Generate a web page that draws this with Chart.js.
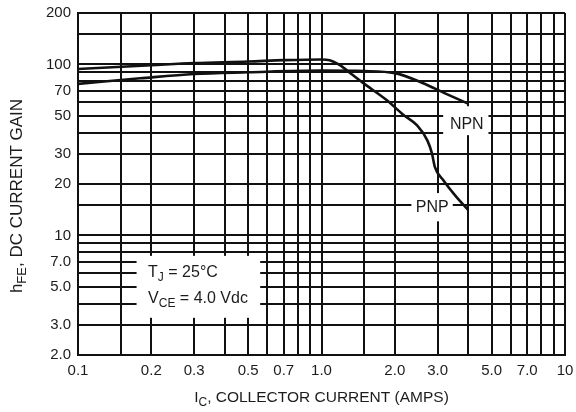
<!DOCTYPE html>
<html>
<head>
<meta charset="utf-8">
<script src="https://cdn.jsdelivr.net/npm/chart.js@4.4.1/dist/chart.umd.min.js"></script>
<style>
    html, body { margin: 0; padding: 0; background: #fff; }
    #wrap { width: 576px; height: 412px; }
</style>
</head>
<body>
<div id="wrap"><canvas id="hfe-chart" width="576" height="412"></canvas></div>
<script>
// DC current gain vs collector current (NPN / PNP)

const npnCurrent = [0.1, 0.18, 0.3, 0.5, 1.0, 1.5, 2.0, 2.6, 3.2, 4.0];
const npnGain    = [77, 83, 88, 90, 92, 91.5, 89, 78, 68, 59];

const pnpCurrent = [0.1, 0.2, 0.3, 0.5, 0.7, 1.0, 1.08, 1.19, 1.34, 1.49, 1.85, 2.16, 2.47, 2.72, 2.84, 2.92, 3.16, 3.58, 4.0];
const pnpGain    = [94, 99, 102, 104, 106, 107, 106, 99, 87, 77.5, 62, 51, 44, 36, 30.3, 25.2, 21.1, 16.8, 14.1];

const xGridValues = [0.1, 0.15, 0.2, 0.3, 0.4, 0.5, 0.6, 0.7, 0.8, 0.9, 1, 1.5, 2, 3, 4, 5, 6, 7, 8, 9, 10];
const xTickValues = [0.1, 0.2, 0.3, 0.5, 0.7, 1, 2, 3, 5, 7, 10];
const xTickLabels = ["0.1", "0.2", "0.3", "0.5", "0.7", "1.0", "2.0", "3.0", "5.0", "7.0", "10"];

const yGridValues = [2, 3, 4, 5, 6, 7, 8, 9, 10, 15, 20, 30, 40, 50, 60, 70, 80, 90, 100, 150, 200];
const yTickValues = [2, 3, 5, 7, 10, 20, 30, 50, 70, 100, 200];
const yTickLabels = ["2.0", "3.0", "5.0", "7.0", "10", "20", "30", "50", "70", "100", "200"];

const ink = "#111";
const textColor = "#1c1c1c";
const family = "'Liberation Sans', Arial, sans-serif";

// white label boxes that break the grid, in data units [x0, x1, y0, y1]
const blanks = [
    [0.174, 0.56, 3.3, 7.6],
    [3.16, 4.85, 38.6, 57],
    [2.34, 3.46, 12.1, 17.7],
];

// rich text: [text, isSubscript]
const notes = [
    { x: 0.194, y: 6.1, align: "left", parts: [["T", false], ["J", true], [" = 25°C", false]] },
    { x: 0.194, y: 4.3, align: "left", parts: [["V", false], ["CE", true], [" = 4.0 Vdc", false]] },
    { x: 3.95, y: 44.3, align: "center", parts: [["NPN", false]] },
    { x: 2.85, y: 14.5, align: "center", parts: [["PNP", false]] },
];

function drawRich(ctx, parts, x, y, size, align) {
    const sub = Math.round(size * 0.78);
    let total = 0;
    parts.forEach(([t, s]) => {
        ctx.font = `${s ? sub : size}px ${family}`;
        total += ctx.measureText(t).width;
    });
    let cx = align === "center" ? x - total / 2 : x;
    ctx.textBaseline = "middle";
    ctx.textAlign = "left";
    parts.forEach(([t, s]) => {
        ctx.font = `${s ? sub : size}px ${family}`;
        ctx.fillText(t, cx, s ? y + size * 0.32 : y);
        cx += ctx.measureText(t).width;
    });
}

const notesPlugin = {
    id: "notes",
    beforeDatasetsDraw(chart) {
        const { ctx, scales: { x, y } } = chart;
        ctx.save();
        ctx.fillStyle = "#fff";
        blanks.forEach(([x0, x1, y0, y1]) => {
            const px0 = x.getPixelForValue(x0), px1 = x.getPixelForValue(x1);
            const py0 = y.getPixelForValue(y1), py1 = y.getPixelForValue(y0);
            ctx.fillRect(px0, py0, px1 - px0, py1 - py0);
        });
        ctx.restore();
    },
    afterDatasetsDraw(chart) {
        const { ctx, scales: { x, y } } = chart;
        ctx.save();
        ctx.fillStyle = textColor;
        notes.forEach(n => {
            drawRich(ctx, n.parts, x.getPixelForValue(n.x), y.getPixelForValue(n.y), 16, n.align);
        });
        ctx.restore();
    },
    afterDraw(chart) {
        const { ctx, chartArea } = chart;
        ctx.save();
        ctx.fillStyle = textColor;
        const midX = (chartArea.left + chartArea.right) / 2;
        drawRich(ctx, [["I", false], ["C", true], [", COLLECTOR CURRENT (AMPS)", false]], midX, 398, 15.5, "center");
        ctx.translate(17, (chartArea.top + chartArea.bottom) / 2 + 12);
        ctx.rotate(-Math.PI / 2);
        drawRich(ctx, [["h", false], ["FE", true], [", DC CURRENT GAIN", false]], 0, 0, 17, "center");
        ctx.restore();
    },
};

const canvas = document.getElementById("hfe-chart");

new Chart(canvas, {
    type: "line",
    data: {
        datasets: [
            {
                label: "NPN",
                data: npnCurrent.map((c, i) => ({ x: c, y: npnGain[i] })),
            },
            {
                label: "PNP",
                data: pnpCurrent.map((c, i) => ({ x: c, y: pnpGain[i] })),
            },
        ],
    },
    options: {
        responsive: false,
        devicePixelRatio: 1,
        animation: false,
        layout: { padding: { top: 13, right: 11, left: 0, bottom: 0 } },
        elements: {
            point: { radius: 0 },
            line: { borderColor: ink, borderWidth: 2.6, cubicInterpolationMode: "monotone", fill: false },
        },
        plugins: {
            legend: { display: false },
            tooltip: { enabled: false },
        },
        scales: {
            x: {
                type: "logarithmic",
                min: 0.1,
                max: 10,
                afterBuildTicks: axis => { axis.ticks = xGridValues.map(v => ({ value: v })); },
                afterFit: s => { s.height = 57; s.paddingRight = 0; },
                grid: { color: ink, lineWidth: 2, drawTicks: false },
                border: { color: ink, width: 2 },
                ticks: {
                    autoSkip: false,
                    maxRotation: 0,
                    padding: 7,
                    color: textColor,
                    font: { family: family, size: 15 },
                    callback: v => {
                        const i = xTickValues.indexOf(v);
                        return i >= 0 ? xTickLabels[i] : "";
                    },
                },
            },
            y: {
                type: "logarithmic",
                min: 2,
                max: 200,
                afterBuildTicks: axis => { axis.ticks = yGridValues.map(v => ({ value: v })); },
                afterFit: s => { s.width = 78; s.paddingTop = 0; },
                grid: { color: ink, lineWidth: 2, drawTicks: false },
                border: { color: ink, width: 2 },
                ticks: {
                    autoSkip: false,
                    padding: 7,
                    color: textColor,
                    font: { family: family, size: 15 },
                    callback: v => {
                        const i = yTickValues.indexOf(v);
                        return i >= 0 ? yTickLabels[i] : "";
                    },
                },
            },
        },
    },
    plugins: [notesPlugin],
});
</script>
</body>
</html>
